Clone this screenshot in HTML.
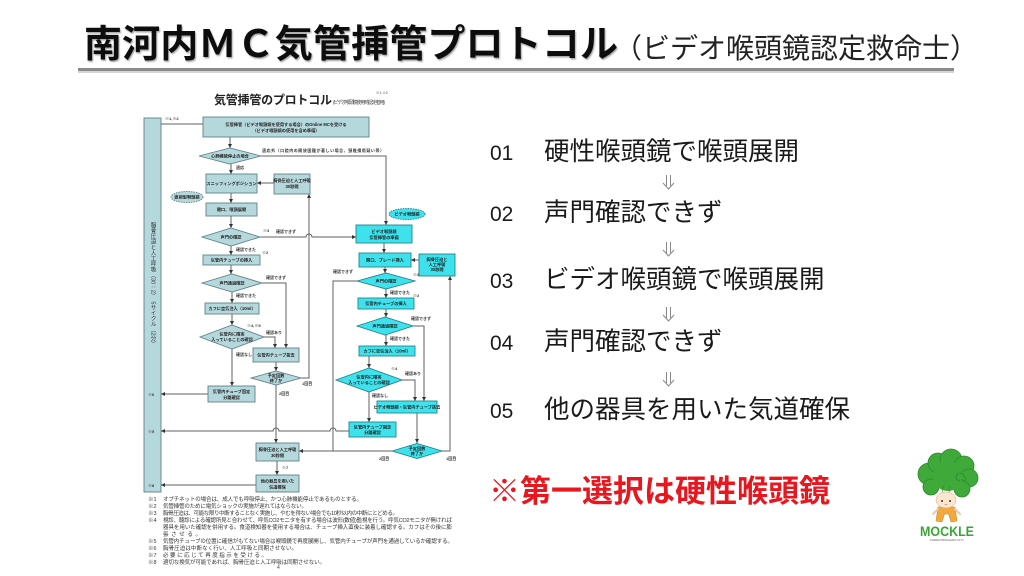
<!DOCTYPE html>
<html><head><meta charset="utf-8">
<style>
html,body{margin:0;padding:0;background:#fff;}
svg{display:block;}
text{font-family:"Liberation Sans","Noto Sans CJK JP",sans-serif;}
.b{fill:#b5d8dd;stroke:#5f8288;stroke-width:0.9}
.c{fill:#3de2ec;stroke:#24848c;stroke-width:0.9}
.l{fill:none;stroke:#606060;stroke-width:1}
.t{font-size:4.2px;fill:#222;text-anchor:middle;font-weight:700}
.s{font-size:4px;fill:#333;font-weight:700}
.f{font-size:5.5px;fill:#333}
.ar{fill:none;stroke:#888;stroke-width:1}
</style></head>
<body>
<svg width="1024" height="576" viewBox="0 0 1024 576" xmlns="http://www.w3.org/2000/svg">
<defs>
<marker id="a" viewBox="0 0 6 6" refX="6" refY="3" markerWidth="4" markerHeight="4" orient="auto"><path d="M0,0L6,3L0,6z" fill="#333"/></marker>
<filter id="sh" x="-5%" y="-20%" width="110%" height="150%"><feDropShadow dx="1" dy="1.5" stdDeviation="0.8" flood-color="#000" flood-opacity="0.35"/></filter>
</defs>

<!-- Title -->
<text x="84" y="57" font-size="38" font-weight="700" fill="#111" filter="url(#sh)" textLength="534" lengthAdjust="spacing">南河内ＭＣ気管挿管プロトコル</text>
<text x="614" y="58" font-size="28" fill="#222">（ビデオ喉頭鏡認定救命士）</text>
<rect x="78" y="71" width="876" height="2" fill="#d6d6d6"/>
<rect x="78" y="68" width="876" height="3" fill="#8a8a8a"/>

<!-- Flowchart title -->
<text x="214" y="104" font-size="12" font-weight="700" fill="#222" textLength="118">気管挿管のプロトコル</text>
<text x="333" y="104" font-size="5" fill="#444" textLength="52">(ビデオ喉頭鏡使用時認定者用)</text>
<text x="376" y="94" font-size="3.5" fill="#444">※1,※2</text>

<!-- Left bar -->
<rect x="144" y="118" width="17" height="374" class="b"/>
<text x="152.5" y="222" font-size="5.6" fill="#333" style="writing-mode:vertical-rl" >胸骨圧迫と人工呼吸（30：2）　5サイクル（2分）</text>
<text x="165" y="120" class="s" font-size="3.5">※1,※2</text>
<text x="148" y="396" class="s">※6</text>
<text x="148" y="433" class="s">※5</text>
<text x="148" y="487" class="s">※8</text>

<!-- Connectors -->
<path class="l" d="M203,124H161"/>
<path class="l" d="M230,137V148" marker-end="url(#a)"/>
<path class="l" d="M261,156H386V225" marker-end="url(#a)"/>
<path class="l" d="M231,164V174" marker-end="url(#a)"/>
<path class="l" d="M274,183H257" marker-end="url(#a)"/>
<path class="l" d="M231,193V203" marker-end="url(#a)"/>
<path class="l" d="M231,216V228" marker-end="url(#a)"/>
<path class="l" d="M260,237H306A3,3 0 0 1 312,237H356" marker-end="url(#a)"/>
<path class="l" d="M231,246V255" marker-end="url(#a)"/>
<path class="l" d="M231,265V274" marker-end="url(#a)"/>
<path class="l" d="M262,283H286V348" marker-end="url(#a)"/>
<path class="l" d="M232,292V303" marker-end="url(#a)"/>
<path class="l" d="M232,314V325" marker-end="url(#a)"/>
<path class="l" d="M264,337H275V348" marker-end="url(#a)"/>
<path class="l" d="M232,349V386" marker-end="url(#a)"/>
<path class="l" d="M208,394H161" marker-end="url(#a)"/>
<path class="l" d="M276,362V371" marker-end="url(#a)"/>
<path class="l" d="M301,378H309V194" marker-end="url(#a)"/>
<path class="l" d="M276,385V443" marker-end="url(#a)"/>
<path class="l" d="M349,431H336A3,3 0 0 0 330,431H279A3,3 0 0 0 273,431H161" marker-end="url(#a)"/>
<path class="l" d="M357,281H333V451"/>
<path class="l" d="M392,451H299" marker-end="url(#a)"/>
<path class="l" d="M277,461V475" marker-end="url(#a)"/>
<path class="l" d="M256,485H161" marker-end="url(#a)"/>
<path class="l" d="M384,243V253" marker-end="url(#a)"/>
<path class="l" d="M419,260H411" marker-end="url(#a)"/>
<path class="l" d="M385,267V273" marker-end="url(#a)"/>
<path class="l" d="M386,289V298" marker-end="url(#a)"/>
<path class="l" d="M386,309V317" marker-end="url(#a)"/>
<path class="l" d="M413,326H424V401" marker-end="url(#a)"/>
<path class="l" d="M386,335V346" marker-end="url(#a)"/>
<path class="l" d="M369,356V368" marker-end="url(#a)"/>
<path class="l" d="M402,380H415V401" marker-end="url(#a)"/>
<path class="l" d="M369,392V422" marker-end="url(#a)"/>
<path class="l" d="M417,413V443" marker-end="url(#a)"/>
<path class="l" d="M442,451H450V276" marker-end="url(#a)"/>

<!-- Left column shapes -->
<rect x="203" y="117" width="166" height="20" class="b"/>
<text class="t" x="286" y="126">気管挿管（ビデオ喉頭鏡を使用する場合）のOnline MCを受ける</text>
<text class="t" x="286" y="132">（ビデオ喉頭鏡の使用を含め準備）</text>
<path class="b" d="M199,156L230,148L261,156L230,164Z"/>
<text class="t" x="230" y="157.5">心肺機能停止の場合</text>
<rect x="206" y="174" width="51" height="19" class="b"/>
<text class="t" x="231.5" y="185">スニッフィングポジション</text>
<rect x="274" y="174" width="36" height="20" class="b"/>
<text class="t" x="292" y="182">胸骨圧迫と人工呼吸</text>
<text class="t" x="292" y="188">30秒間</text>
<ellipse cx="187" cy="197" rx="16" ry="5.5" class="b" stroke-dasharray="1.5,1"/>
<text class="t" x="187" y="198.5">直視型喉頭鏡</text>
<rect x="206" y="203" width="51" height="13" class="b"/>
<text class="t" x="231.5" y="211">開口、喉頭展開</text>
<path class="b" d="M202,237L231,228L260,237L231,246Z"/>
<text class="t" x="231" y="238.5">声門の確認</text>
<rect x="203" y="255" width="57" height="10" class="b"/>
<text class="t" x="231.5" y="261.5">気管内チューブの挿入</text>
<path class="b" d="M202,283L232,274L262,283L232,292Z"/>
<text class="t" x="232" y="284.5">声門通過確認</text>
<rect x="205" y="303" width="54" height="11" class="b"/>
<text class="t" x="232" y="310">カフに空気注入（10ml）</text>
<path class="b" d="M200,337L232,325L264,337L232,349Z"/>
<text class="t" x="232" y="335.5">気管内に確実</text>
<text class="t" x="232" y="341">入っていることの確認</text>
<rect x="253" y="348" width="46" height="14" class="b"/>
<text class="t" x="276" y="356.5">気管内チューブ抜去</text>
<path class="b" d="M251,378L276,371L301,378L276,385Z"/>
<text class="t" x="276" y="377">予定回数</text>
<text class="t" x="276" y="382">終了か</text>
<rect x="208" y="386" width="47" height="16" class="b"/>
<text class="t" x="231.5" y="393">気管内チューブ固定</text>
<text class="t" x="231.5" y="399">分離確認</text>
<rect x="256" y="443" width="43" height="18" class="b"/>
<text class="t" x="277.5" y="451">胸骨圧迫と人工呼吸</text>
<text class="t" x="277.5" y="457">30秒間</text>
<rect x="256" y="475" width="43" height="17" class="b"/>
<text class="t" x="277.5" y="482.5">他の器具を用いた</text>
<text class="t" x="277.5" y="488.5">気道確保</text>

<!-- Cyan column shapes -->
<ellipse cx="407" cy="214" rx="18" ry="5.5" class="c" stroke-dasharray="1.5,1"/>
<text class="t" x="407" y="215.5">ビデオ喉頭鏡</text>
<rect x="356" y="225" width="56" height="18" class="c"/>
<text class="t" x="384" y="233">ビデオ喉頭鏡</text>
<text class="t" x="384" y="239">気管挿管の準備</text>
<rect x="359" y="253" width="52" height="14" class="c"/>
<text class="t" x="385" y="261.5">開口、ブレード挿入</text>
<rect x="419" y="254" width="36" height="22" class="c"/>
<text class="t" x="437" y="261">胸骨圧迫と</text>
<text class="t" x="437" y="266">人工呼吸</text>
<text class="t" x="437" y="271">30秒間</text>
<path class="c" d="M357,281L386,273L415,281L386,289Z"/>
<text class="t" x="386" y="282.5">声門の確認</text>
<rect x="358" y="298" width="56" height="11" class="c"/>
<text class="t" x="386" y="305">気管内チューブの挿入</text>
<path class="c" d="M357,326L385,317L413,326L385,335Z"/>
<text class="t" x="385" y="327.5">声門通過確認</text>
<rect x="359" y="346" width="56" height="10" class="c"/>
<text class="t" x="387" y="352.5">カフに空気注入（10ml）</text>
<path class="c" d="M336,380L369,368L402,380L369,392Z"/>
<text class="t" x="369" y="378.5">気管内に確実</text>
<text class="t" x="369" y="384">入っていることの確認</text>
<rect x="377" y="401" width="60" height="12" class="c"/>
<text class="t" x="407" y="408.5">ビデオ喉頭鏡・気管内チューブ抜去</text>
<rect x="349" y="422" width="47" height="15" class="c"/>
<text class="t" x="372.5" y="428.5">気管内チューブ固定</text>
<text class="t" x="372.5" y="434">分離確認</text>
<path class="c" d="M392,451L417,443.5L442,451L417,458.5Z"/>
<text class="t" x="417" y="450">予定回数</text>
<text class="t" x="417" y="455">終了か</text>

<!-- Connector labels -->
<text class="s" x="262" y="152" textLength="122">適応外（口腔内の開放困難が著しい場合、頸椎損傷疑い等）</text>
<text class="s" x="236" y="169">適応</text>
<text class="s" x="263" y="232">※3</text>
<text class="s" x="276" y="233">確認できず</text>
<text class="s" x="236" y="251">確認できた</text>
<text class="s" x="262" y="254">※2</text>
<text class="s" x="266" y="279">確認できず</text>
<text class="s" x="236" y="297">確認できた</text>
<text class="s" x="247" y="327">※4,※5</text>
<text class="s" x="266" y="334">確認あり</text>
<text class="s" x="236" y="356">確認なし</text>
<text class="s" x="302" y="385">1回目</text>
<text class="s" x="279" y="395">2回目</text>
<text class="s" x="282" y="469">※7</text>
<text class="s" x="333" y="273">確認できず</text>
<text class="s" x="413" y="276">※3</text>
<text class="s" x="390" y="294">確認できた</text>
<text class="s" x="413" y="297">※2</text>
<text class="s" x="411" y="320">確認できず</text>
<text class="s" x="390" y="340">確認できた</text>
<text class="s" x="391" y="370">※4</text>
<text class="s" x="405" y="375">確認あり</text>
<text class="s" x="372" y="397">確認なし</text>
<text class="s" x="379" y="460">2回目</text>
<text class="s" x="446" y="460">1回目</text>

<!-- Footnotes -->
<text class="f" x="148" y="501">※1</text><text class="f" x="163" y="501" textLength="199">オプチネットの場合は、成人でも呼吸停止、かつ心肺機能停止であるものとする。</text>
<text class="f" x="148" y="508">※2</text><text class="f" x="163" y="508" textLength="144">気管挿管のために電気ショックの実施が遅れてはならない。</text>
<text class="f" x="148" y="515">※3</text><text class="f" x="163" y="515" textLength="235">胸骨圧迫は、可能な限り中断することなく実施し、やむを得ない場合でも10秒以内の中断にとどめる。</text>
<text class="f" x="148" y="522">※4</text><text class="f" x="163" y="522" textLength="289">視診、聴診による確認所見と合わせて、呼気CO2モニタを有する場合は波形(数値)監視を行う。呼気CO2モニタが無ければ</text>
<text class="f" x="163" y="529" textLength="289">器具を用いた確認を併用する。食道検知器を使用する場合は、チューブ挿入直後に装着し確認する。カフはその後に膨</text>
<text class="f" x="163" y="536" textLength="38">張させる。</text>
<text class="f" x="148" y="543">※5</text><text class="f" x="163" y="543" textLength="290">気管内チューブの位置に確信がもてない場合は喉頭鏡で再度展開し、気管内チューブが声門を通過しているか確認する。</text>
<text class="f" x="148" y="550">※6</text><text class="f" x="163" y="550" textLength="134">胸骨圧迫は中断なく行い、人工呼吸と同期させない。</text>
<text class="f" x="148" y="557">※7</text><text class="f" x="163" y="557" textLength="104">必要に応じて再度指示を受ける。</text>
<text class="f" x="148" y="564">※8</text><text class="f" x="163" y="564" textLength="162">適切な換気が可能であれば、胸骨圧迫と人工呼吸は同期させない。</text>
<text x="277" y="569" font-size="5" fill="#444">4</text>

<!-- Right list -->
<g fill="#1a1a1a">
<text x="490" y="160" font-size="21">01</text>
<text x="544" y="160" font-size="25.5">硬性喉頭鏡で喉頭展開</text>
<text x="490" y="221" font-size="21">02</text>
<text x="544" y="221" font-size="25.5">声門確認できず</text>
<text x="490" y="288" font-size="21">03</text>
<text x="544" y="288" font-size="25.5">ビデオ喉頭鏡で喉頭展開</text>
<text x="490" y="350" font-size="21">04</text>
<text x="544" y="350" font-size="25.5">声門確認できず</text>
<text x="490" y="418" font-size="21">05</text>
<text x="544" y="418" font-size="25.5">他の器具を用いた気道確保</text>
</g>
<!-- double arrows -->
<path class="ar" d="M666.5,175V186M670.5,175V186M663,183L668.5,189L674,183"/>
<path class="ar" d="M666.5,242V253M670.5,242V253M663,250L668.5,256L674,250"/>
<path class="ar" d="M666.5,307V318M670.5,307V318M663,315L668.5,321L674,315"/>
<path class="ar" d="M666.5,372V383M670.5,372V383M663,380L668.5,386L674,380"/>

<!-- Red note -->
<text x="489" y="502" font-size="31" font-weight="700" fill="#e8171f">※第一選択は硬性喉頭鏡</text>

<!-- Mascot -->
<g>
<path d="M938,507L955,507L957,521L951,522L948.5,514L944.5,514L942,522L936,521Z" fill="#f2a93b" stroke="#c77f1a" stroke-width="0.5"/>
<path d="M938,509L933,514M955,509L960,514" stroke="#e9c9a8" stroke-width="2" stroke-linecap="round"/>
<ellipse cx="946" cy="500" rx="10" ry="8" fill="#fce6d0" stroke="#c9a38a" stroke-width="0.5"/>
<circle cx="929" cy="474" r="11" fill="#3faa3a" stroke="#2b8a2b" stroke-width="0.8"/>
<circle cx="938" cy="463" r="10" fill="#3faa3a" stroke="#2b8a2b" stroke-width="0.8"/>
<circle cx="951" cy="460" r="11" fill="#3faa3a" stroke="#2b8a2b" stroke-width="0.8"/>
<circle cx="964" cy="466" r="10" fill="#3faa3a" stroke="#2b8a2b" stroke-width="0.8"/>
<circle cx="969" cy="478" r="9" fill="#3faa3a" stroke="#2b8a2b" stroke-width="0.8"/>
<circle cx="962" cy="489" r="8" fill="#3faa3a" stroke="#2b8a2b" stroke-width="0.8"/>
<circle cx="931" cy="487" r="8" fill="#3faa3a" stroke="#2b8a2b" stroke-width="0.8"/>
<circle cx="948" cy="476" r="15" fill="#3faa3a"/>
<path d="M960,481a4,4 0 1 1 4,-4a2,2 0 1 1 -2,2" fill="none" stroke="#2b8a2b" stroke-width="0.8"/>
<path d="M944,486q-3,3 -1,6M950,486q-2,3 0,6" fill="none" stroke="#2b8a2b" stroke-width="0.6"/>
<circle cx="942" cy="501" r="1" fill="#333"/>
<circle cx="950" cy="501" r="1" fill="#333"/>
<path d="M944.5,504q1.5,1.2 3,0" fill="none" stroke="#a55" stroke-width="0.5"/>
<text x="947" y="536" text-anchor="middle" font-size="14" font-weight="700" fill="#3aa535" textLength="54" lengthAdjust="spacingAndGlyphs">MOCKLE</text>
<text x="947" y="541" text-anchor="middle" font-size="2.5" fill="#555" textLength="34" lengthAdjust="spacingAndGlyphs">KAWACHINAGANO CITY</text>
</g>
</svg>
</body></html>
